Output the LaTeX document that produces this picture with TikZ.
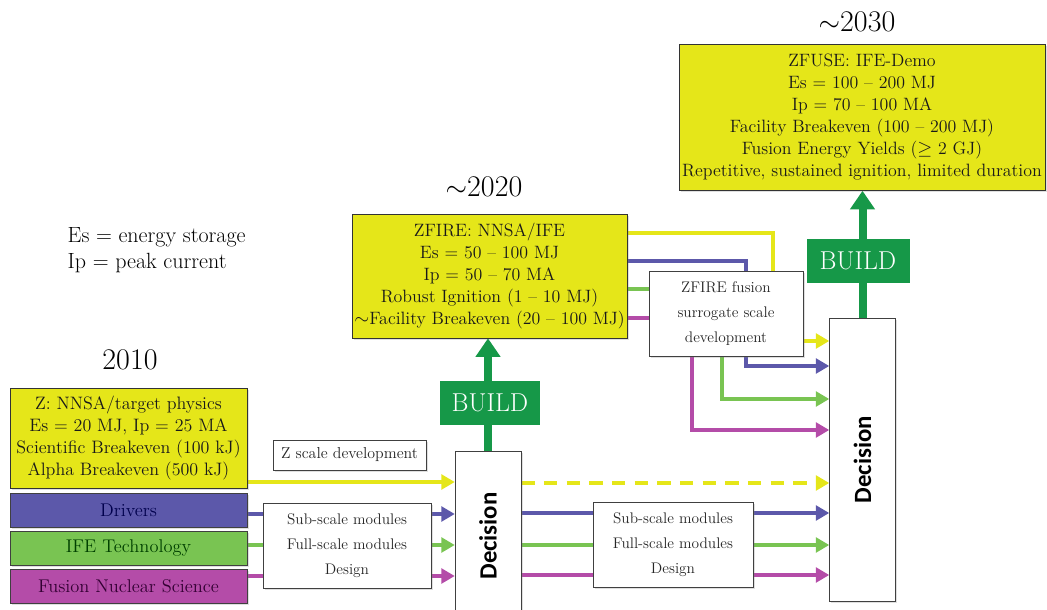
\documentclass[tikz,border=0pt]{standalone}
\usepackage{fontspec}
\newfontfamily\decfont{Carlito}
\usetikzlibrary{arrows.meta,backgrounds,shadows}
\definecolor{zyel}{RGB}{229,230,25}
\definecolor{zblue}{RGB}{92,88,170}
\definecolor{zgreen}{RGB}{121,196,82}
\definecolor{zmag}{RGB}{180,76,168}
\definecolor{zbuild}{RGB}{22,152,72}
\newcommand{\pxu}{0.75pt}

\begin{document}
\begin{tikzpicture}[x=\pxu,y=-\pxu,
  shade/.style={drop shadow={opacity=.25,shadow xshift=1.2pt,shadow yshift=-1.2pt}},
  ybox/.style={draw=black!80,fill=zyel,shade,align=center,inner sep=0pt,text=black!90,font=\fontsize{13.4}{16.5}\selectfont},
  wbox/.style={draw=black!75,fill=white,shade,align=center,inner sep=0pt,text=black!85,font=\fontsize{11.5}{18.75}\selectfont},
  cbox/.style={draw=black!75,shade,inner sep=0pt,minimum width=237*\pxu,minimum height=34*\pxu,font=\fontsize{13.8}{15}\selectfont},
  dbox/.style={draw=black!75,fill=white,shade,inner sep=0pt,minimum width=66*\pxu,font=\decfont\bfseries\fontsize{18.6}{20}\selectfont},
  build/.style={fill=zbuild,text=white,inner sep=0pt,minimum height=44*\pxu,font=\fontsize{19.4}{22}\selectfont},
  year/.style={inner sep=1pt,font=\fontsize{22.5}{25}\selectfont},
  carr/.style={line width=3.6pt,-{Triangle[length=10pt,width=11pt]}},
  garr/.style={draw=zbuild,line width=6pt,-{Triangle[length=14pt,width=18pt]}}]
\useasboundingbox (0,0) rectangle (1047,610);

% ~2030
\node[year] (y3) at (857,22) {$\sim$2030};
\node[ybox,minimum width=366*\pxu,minimum height=146*\pxu] (zfuse) at (862,117.5)
  {ZFUSE: IFE-Demo\\Es = 100 -- 200 MJ\\Ip = 70 -- 100 MA\\Facility Breakeven (100 -- 200 MJ)\\Fusion Energy Yields ($\geq$ 2 GJ)\\Repetitive, sustained ignition, limited duration};
\node[dbox,minimum height=283*\pxu] (dec3) at (862.5,459.5) {\rotatebox{90}{Decision}};
\node[build,minimum width=103*\pxu] (build3) at (858,261) {BUILD};

% ~2020
\node[year] (y2) at (484,187) {$\sim$2020};
\node[ybox,minimum width=275*\pxu,minimum height=124*\pxu] (zfire) at (489.5,276)
  {ZFIRE: NNSA/IFE\\Es = 50 -- 100 MJ\\Ip = 50 -- 70 MA\\Robust Ignition (1 -- 10 MJ)\\$\sim$Facility Breakeven (20 -- 100 MJ)};
\node[dbox,minimum height=170*\pxu] (dec2) at (488,536) {\rotatebox{90}{Decision}};
\node[build,minimum width=100*\pxu] (build2) at (490,403) {BUILD};
\node[wbox,minimum width=154*\pxu,minimum height=85*\pxu] (zsur) at (726,313.5)
  {ZFIRE fusion\\surrogate scale\\development};
\node[wbox,minimum width=160*\pxu,minimum height=85*\pxu] (sub2) at (673,544.5)
  {Sub-scale modules\\Full-scale modules\\Design};

% 2010
\node[font=\fontsize{16.5}{18}\selectfont,anchor=west] (es) at (63,237) {Es = energy storage};
\node[font=\fontsize{16.5}{18}\selectfont,anchor=west] (ip) at (63,263) {Ip = peak current};
\node[year] (y1) at (130,360) {2010};
\node[ybox,minimum width=237*\pxu,minimum height=100*\pxu,font=\fontsize{13.5}{16.5}\selectfont] (zbox) at (128.5,438)
  {Z: NNSA/target physics\\Es = 20 MJ, Ip = 25 MA\\Scientific Breakeven (100 kJ)\\Alpha Breakeven (500 kJ)};
\node[cbox,fill=zblue,text=blue!30!black] (drv) at (128.5,510) {Drivers};
\node[cbox,fill=zgreen,text=green!25!black] (ife) at (128.5,548) {IFE Technology};
\node[cbox,fill=zmag,text=violet!40!black] (fns) at (128.5,586.5) {Fusion Nuclear Science};
\node[wbox,minimum width=153*\pxu,minimum height=30*\pxu,font=\fontsize{11.9}{14}\selectfont] (zdev) at (349.5,455) {Z scale development};
\node[wbox,minimum width=168*\pxu,minimum height=85*\pxu] (sub1) at (347,545.5)
  {Sub-scale modules\\Full-scale modules\\Design};

\begin{pgfonlayer}{background}
\draw[garr] (dec3.north) -- (dec3.north |- zfuse.south);
\draw[garr] (dec2.north) -- (dec2.north |- zfire.south);

\draw[carr,zyel] (zbox.east |- 0,482) -- (dec2.west |- 0,482);
\draw[carr,zblue] (drv.east |- 0,514) -- (dec2.west |- 0,514);
\draw[carr,zgreen] (ife.east |- 0,545) -- (dec2.west |- 0,545);
\draw[carr,zmag] (fns.east |- 0,576) -- (dec2.west |- 0,576);

\draw[carr,zyel,dash pattern=on 10pt off 7pt] (dec2.east |- 0,483) -- (dec3.west |- 0,483);
\draw[carr,zblue] (dec2.east |- 0,513) -- (dec3.west |- 0,513);
\draw[carr,zgreen] (dec2.east |- 0,545) -- (dec3.west |- 0,545);
\draw[carr,zmag] (dec2.east |- 0,575) -- (dec3.west |- 0,575);

\draw[carr,zyel] (zfire.east |- 0,233) -- (773,233) -- (773,341) -- (dec3.west |- 0,341);
\draw[carr,zblue] (zfire.east |- 0,261) -- (746,261) -- (746,366) -- (dec3.west |- 0,366);
\draw[carr,zgreen] (zfire.east |- 0,289) -- (722,289) -- (722,399) -- (dec3.west |- 0,399);
\draw[carr,zmag] (zfire.east |- 0,318) -- (692,318) -- (692,430) -- (dec3.west |- 0,430);
\end{pgfonlayer}
\end{tikzpicture}
\end{document}
